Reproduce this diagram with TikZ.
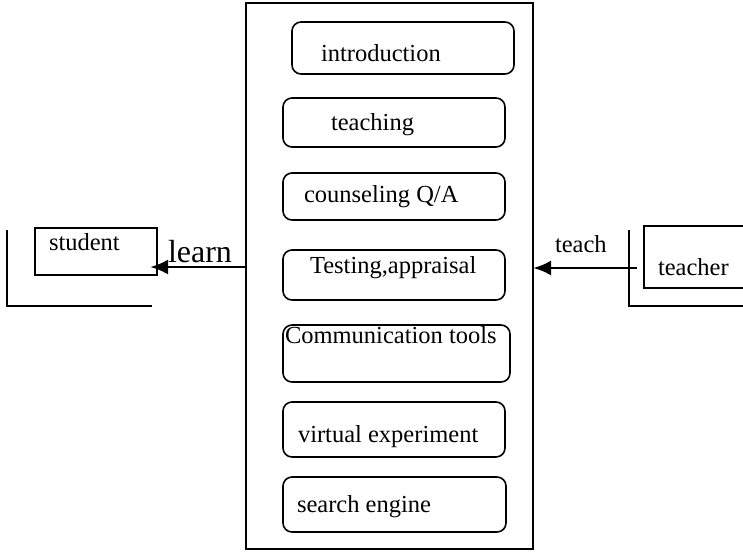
\documentclass[tikz,border=0pt]{standalone}
\usepackage{fontspec}
\setmainfont{Liberation Serif}
\usetikzlibrary{arrows.meta}
\begin{document}
\begin{tikzpicture}[x=1pt, y=-1pt,
                    every node/.style={inner sep=0pt, outer sep=0pt, font=\fontsize{24.5}{28}\selectfont},
                    frame/.style={draw, line width=1.6pt},
                    item/.style={draw, line width=1.6pt, rounded corners=9pt},
                    word/.style={anchor=base west},
                    flow/.style={line width=2.8pt, -{Latex[length=18pt, width=15pt]}}
                    ]
                    \useasboundingbox (0,0) rectangle (743,552);
                    \node[frame, minimum width=287pt, minimum height=546pt] (portal) at (389.5,276) {};

                    \foreach \n/\x/\y/\w/\h/\tx/\ty/\t in {intro/403/48/222/52/321/61/introduction,
                        teaching/394/122.5/222/49/331/130/teaching,
                        counsel/394/196.5/222/47/304/202/counseling Q\slash A,
                        testing/394/275/222/50/310/273/{Testing,appraisal},
                        commu/396.5/353.5/227/57/285/343/Communication tools,
                        virtual/394/429.5/222/55/298/442/virtual experiment,
                        search/394.5/504.5/223/55/297/512/search engine}{
                        \node[item, minimum width=\w pt, minimum height=\h pt] (\n) at (\x,\y) {};
                        \node[word] (\n-text) at (\tx,\ty) {\t};
                    }

                    \node[frame, minimum width=122pt, minimum height=47pt] (student) at (96,251.5) {};
                    \node[word] (student-text) at (49,250) {student};
                    \draw[line width=1.6pt] (7,230) -- (7,306) -- (152,306);

                    \node[frame, minimum width=116pt, minimum height=62pt] (teacher) at (702,257) {};
                    \node[word] (teacher-text) at (658,275) {teacher};
                    \draw[line width=1.6pt] (629,230) -- (629,306) -- (760,306);

                    \node[word, font=\fontsize{32}{36}\selectfont] (learn) at (168,262) {learn};
                    \node[word] (teach) at (555,252) {teach};

                    \coordinate (from-teacher) at (637,268);
                    \draw[flow, shorten >=-7pt] (portal.west |- 0,267) -- (student.east |- 0,267);
                    \draw[flow] (from-teacher) -- (portal.east |- from-teacher);
                \end{tikzpicture}
\end{document}
